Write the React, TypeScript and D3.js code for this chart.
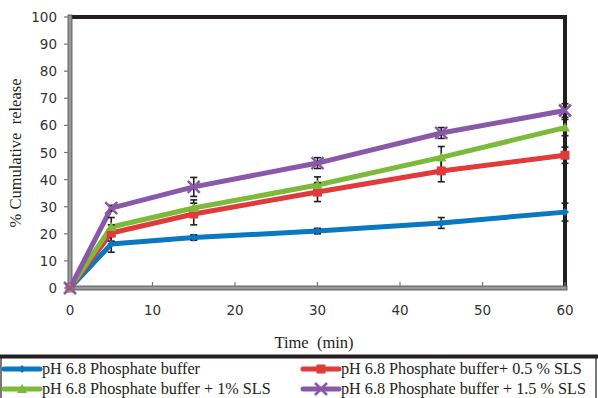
import React from "react";
import * as d3 from "d3";

const times = [0, 5, 15, 30, 45, 60];
const seriesNames = [
  "pH 6.8 Phosphate buffer",
  "pH 6.8 Phosphate buffer+ 0.5 % SLS",
  "pH 6.8 Phosphate buffer + 1% SLS",
  "pH 6.8 Phosphate buffer + 1.5 % SLS",
];
const bufferValues = [0, 16.2, 18.6, 21, 24, 28];
const sls05Values = [0, 20.3, 27.3, 35.4, 43.2, 49];
const sls1Values = [0, 22.5, 29.5, 38, 48.2, 59.2];
const sls15Values = [0, 29.5, 37.3, 46.1, 57.2, 65.5];
const bufferErr = [0, 3, 1, 1, 2, 3.3];
const sls05Err = [0, 3, 4, 3.5, 4, 3];
const sls1Err = [0, 3.5, 3, 3, 4, 3];
const sls15Err = [0, 1, 3.5, 2, 2, 2.5];
const xTicks = [0, 10, 20, 30, 40, 50, 60];
const yTicks = [0, 10, 20, 30, 40, 50, 60, 70, 80, 90, 100];

const colors = ["#0a78c0", "#e03a3a", "#7cba3a", "#8a58a8"];
const markers = ["diamond", "square", "triangle", "x"];

const series = [
  { name: seriesNames[0], values: bufferValues, err: bufferErr },
  { name: seriesNames[1], values: sls05Values, err: sls05Err },
  { name: seriesNames[2], values: sls1Values, err: sls1Err },
  { name: seriesNames[3], values: sls15Values, err: sls15Err },
];

function Marker({ type, x, y, color }: { type: string; x: number; y: number; color: string }) {
  if (type === "diamond") {
    return <path d={`M${x},${y - 4}L${x + 4},${y}L${x},${y + 4}L${x - 4},${y}Z`} fill={color} />;
  }
  if (type === "square") {
    return <rect x={x - 4.5} y={y - 4.5} width={9} height={9} fill={color} />;
  }
  if (type === "triangle") {
    return <path d={`M${x},${y - 5}L${x + 5},${y + 4}L${x - 5},${y + 4}Z`} fill={color} />;
  }
  return (
    <path
      d={`M${x - 6},${y - 6}L${x + 6},${y + 6}M${x - 6},${y + 6}L${x + 6},${y - 6}`}
      stroke={color}
      strokeWidth={2.5}
      fill="none"
    />
  );
}

export default function App() {
  const W = 598;
  const H = 398;
  const x = d3.scaleLinear().domain([0, 60]).range([70, 565]);
  const y = d3.scaleLinear().domain([0, 100]).range([288, 17]);
  const line = d3
    .line<number>()
    .x((_, i) => x(times[i]))
    .y((d) => y(d));
  const tickFont = "'DejaVu Sans', sans-serif";
  const serif = "'Liberation Serif', 'Times New Roman', serif";

  return (
    <svg
      width={W}
      height={H}
      style={{ position: "absolute", left: 0, top: 0 }}
      viewBox={`0 0 ${W} ${H}`}
    >
      <rect x={0} y={0} width={W} height={H} fill="#fff" />
      {/* frame top & right */}
      <line x1={70} y1={17} x2={567} y2={17} stroke="#231f20" strokeWidth={4} />
      <line x1={565} y1={15} x2={565} y2={290} stroke="#231f20" strokeWidth={4} />
      {/* left axis */}
      <rect x={68} y={15} width={4} height={275} fill="#9a9a9a" stroke="#444" strokeWidth={0.8} />
      {/* bottom axis */}
      <rect x={68} y={286} width={499} height={4} fill="#9a9a9a" stroke="#444" strokeWidth={0.8} />
      {/* ticks */}
      {yTicks.map((t) => (
        <line key={"yt" + t} x1={64} x2={68} y1={y(t)} y2={y(t)} stroke="#777" strokeWidth={1.2} />
      ))}
      {xTicks.map((t) => (
        <line key={"xt" + t} x1={x(t)} x2={x(t)} y1={282} y2={286} stroke="#777" strokeWidth={1.2} />
      ))}
      {yTicks.map((t) => (
        <text
          key={"yl" + t}
          x={57}
          y={y(t) + 5}
          textAnchor="end"
          fontFamily={tickFont}
          fontSize={13.5}
          fill="#333"
        >
          {t}
        </text>
      ))}
      {xTicks.map((t) => (
        <text
          key={"xl" + t}
          x={x(t)}
          y={315}
          textAnchor="middle"
          fontFamily={tickFont}
          fontSize={13.5}
          fill="#333"
        >
          {t}
        </text>
      ))}
      <text
        transform={`translate(21,153) rotate(-90)`}
        textAnchor="middle"
        fontFamily={serif}
        fontSize={16.5}
        fill="#231f20"
        style={{ whiteSpace: "pre" }}
      >
        {"% Cumulative  release"}
      </text>
      <text
        x={314}
        y={348}
        textAnchor="middle"
        fontFamily={serif}
        fontSize={16.5}
        fill="#231f20"
        style={{ whiteSpace: "pre" }}
      >
        {"Time  (min)"}
      </text>
      {/* series lines */}
      {series.map((s, si) => (
        <path
          key={"l" + si}
          d={line(s.values) || ""}
          fill="none"
          stroke={colors[si]}
          strokeWidth={5}
          strokeLinejoin="round"
        />
      ))}
      {/* error bars */}
      {series.map((s, si) =>
        s.values.map((v, i) =>
          s.err[i] > 0 ? (
            <g key={"e" + si + "-" + i} stroke="#231f20" strokeWidth={1.6}>
              <line x1={x(times[i])} x2={x(times[i])} y1={y(v + s.err[i])} y2={y(v - s.err[i])} />
              <line x1={x(times[i]) - 3.5} x2={x(times[i]) + 3.5} y1={y(v + s.err[i])} y2={y(v + s.err[i])} />
              <line x1={x(times[i]) - 3.5} x2={x(times[i]) + 3.5} y1={y(v - s.err[i])} y2={y(v - s.err[i])} />
            </g>
          ) : null
        )
      )}
      {/* markers */}
      {series.map((s, si) =>
        s.values.map((v, i) => (
          <Marker key={"m" + si + "-" + i} type={markers[si]} x={x(times[i])} y={y(v)} color={colors[si]} />
        ))
      )}
      {/* legend */}
      <rect x={1} y={357} width={595} height={45} fill="none" stroke="#231f20" strokeWidth={1.2} />
      <line x1={0} x2={598} y1={356.5} y2={356.5} stroke="#231f20" strokeWidth={4} />
      {series.map((s, si) => {
        const col = si % 2;
        const row = Math.floor(si / 2);
        const lx = col === 0 ? 4 : 303;
        const ly = 369 + row * 20;
        return (
          <g key={"lg" + si}>
            <line x1={lx} x2={lx + 36} y1={ly} y2={ly} stroke={colors[si]} strokeWidth={5} strokeLinecap="round" />
            <Marker type={markers[si]} x={lx + 18} y={ly} color={colors[si]} />
            <text x={lx + 38} y={ly + 5} fontFamily={serif} fontSize={16.2} fill="#231f20">
              {s.name}
            </text>
          </g>
        );
      })}
    </svg>
  );
}
